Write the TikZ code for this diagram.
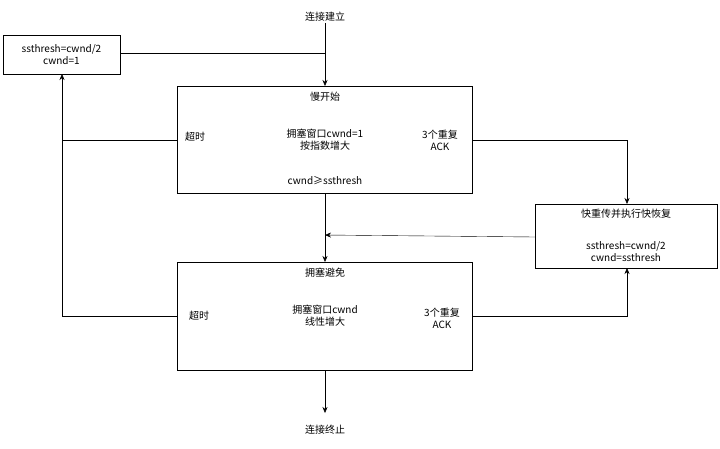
\documentclass[tikz,border=0pt]{standalone}
\usepackage{fontspec}
\setmainfont{Noto Sans CJK SC}
\usetikzlibrary{arrows.meta}
\begin{document}
\begin{tikzpicture}[x=1pt,y=-1pt,font=\fontsize{10}{12}\selectfont,
  box/.style={draw,thick,inner sep=0},
  arr/.style={-{Stealth[length=6pt,width=5pt]}},
  lbl/.style={align=center,inner sep=1pt}]
\useasboundingbox (0,0) rectangle (720,448);
% boxes
\draw[thick] (3,35) rectangle (120,74);
\node[lbl] (b0) at (61.5,54.5) {ssthresh=cwnd/2\\cwnd=1};
\coordinate (b0r) at (120,53);
\coordinate (b0b) at (62,74);
\draw[thick] (177,86) rectangle (472,193);
\draw[thick] (177,262) rectangle (472,370);
\draw[thick] (535,204) rectangle (717,268);
% texts
\node[lbl] (start) at (325,17) {连接建立};
\node[lbl] (ss) at (325,97) {慢开始};
\node[lbl] (sst) at (325,140) {拥塞窗口cwnd=1\\按指数增大};
\node[lbl] at (325,181) {cwnd≥ssthresh};
\node[lbl] at (195,137) {超时};
\node[lbl] at (440,140) {3个重复\\ACK};
\node[lbl] at (325,273) {拥塞避免};
\node[lbl] at (325,316) {拥塞窗口cwnd\\线性增大};
\node[lbl] at (199,316) {超时};
\node[lbl] at (442,318) {3个重复\\ACK};
\node[lbl] at (626,214) {快重传并执行快恢复};
\node[lbl] at (626,252) {ssthresh=cwnd/2\\cwnd=ssthresh};
\node[lbl] (end) at (325,430) {连接终止};
% coordinates
\coordinate (ssT) at (325,86);
\coordinate (ssB) at (325,193);
\coordinate (caT) at (325,262);
\coordinate (caB) at (325,370);
\coordinate (frT) at (627,204);
\coordinate (frB) at (627,268);
\coordinate (frL) at (535,237);
\coordinate (mid) at (325,235);
\coordinate (endA) at (325,413);
% connectors
\draw[arr] (start) -- (ssT);
\draw (b0r) -- (325,53);
\draw[arr] (177,140) -- (62,140) -- (b0b);
\draw (177,316) -- (62,316) -- (62,140);
\draw[arr] (472,140) -- (627,140) -- (frT);
\draw[arr] (472,316) -- (627,316) -- (frB);
\draw[arr] (frL) -- (mid);
\draw[arr] (ssB) -- (caT);
\draw[arr] (caB) -- (endA);
\end{tikzpicture}
\end{document}
